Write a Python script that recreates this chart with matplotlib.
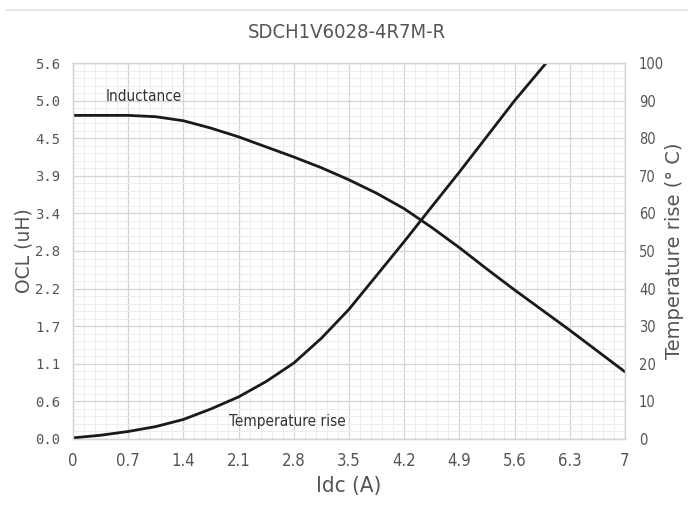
import matplotlib
matplotlib.use("Agg")
import matplotlib.pyplot as plt
from matplotlib.ticker import FixedLocator, MultipleLocator
from matplotlib.lines import Line2D

# ------------------------
# Data
# ------------------------
idc_l = [0, 0.35, 0.7, 1.05, 1.4, 1.75, 2.1, 2.45, 2.8, 3.15, 3.5,
         3.85, 4.2, 4.55, 4.9, 5.25, 5.6, 5.95, 6.3, 6.65, 7.0]
inductance = [4.82, 4.82, 4.82, 4.80, 4.74, 4.63, 4.50, 4.35, 4.20, 4.04, 3.86,
              3.66, 3.43, 3.15, 2.85, 2.53, 2.22, 1.92, 1.62, 1.31, 1.0]

idc_t = [0, 0.35, 0.7, 1.05, 1.4, 1.75, 2.1, 2.45, 2.8, 3.15, 3.5,
         3.85, 4.2, 4.55, 4.9, 5.25, 5.6, 6.0]
temp_rise = [0.3, 1.0, 2.0, 3.3, 5.2, 8.0, 11.2, 15.3, 20.2, 26.8, 34.5,
             43.5, 52.5, 61.8, 71.0, 80.5, 90.0, 100.0]

x_ticks = [0, 0.7, 1.4, 2.1, 2.8, 3.5, 4.2, 4.9, 5.6, 6.3, 7]
x_labels = ["0", "0.7", "1.4", "2.1", "2.8", "3.5", "4.2", "4.9", "5.6", "6.3", "7"]
l_ticks = [0, 0.56, 1.12, 1.68, 2.24, 2.8, 3.36, 3.92, 4.48, 5.04, 5.6]
l_labels = ["0.0", "0.6", "1.1", "1.7", "2.2", "2.8", "3.4", "3.9", "4.5", "5.0", "5.6"]
r_ticks = [0, 10, 20, 30, 40, 50, 60, 70, 80, 90, 100]

TITLE = "SDCH1V6028-4R7M-R"

# ------------------------
# Style
# ------------------------
NARROW = dict(family="DejaVu Sans", stretch="condensed")
TXT = "#555555"
MAJOR = "#d4d4d4"
MINOR = "#ededed"

fig = plt.figure(figsize=(6.88, 5.12), dpi=100)
ax = fig.add_axes([73 / 688, 1 - 439 / 512, 552 / 688, 376 / 512])
ax2 = ax.twinx()

ax.set_xlim(0, 7)
ax.set_ylim(0, 5.6)
ax2.set_ylim(0, 100)

ax.xaxis.set_major_locator(FixedLocator(x_ticks))
ax.xaxis.set_minor_locator(MultipleLocator(0.14))
ax.yaxis.set_major_locator(FixedLocator(l_ticks))
ax.yaxis.set_minor_locator(MultipleLocator(0.112))
ax2.yaxis.set_major_locator(FixedLocator(r_ticks))

ax.set_xticklabels(x_labels, fontsize=12, color=TXT, **NARROW)
ax.set_yticklabels(l_labels, family="DejaVu Sans Mono", fontsize=10, color=TXT)
ax2.set_yticklabels([str(t) for t in r_ticks], fontsize=10.5, color=TXT, **NARROW)

ax.grid(which="major", color=MAJOR, lw=0.9)
ax.grid(which="minor", color=MINOR, lw=0.7)
ax.set_axisbelow(True)
ax.tick_params(which="both", length=0)
ax.tick_params(axis="x", pad=9)
ax.tick_params(axis="y", pad=9)
ax2.tick_params(length=0, pad=10)

for a in (ax, ax2):
    for s in a.spines.values():
        s.set_color(MAJOR)
        s.set_linewidth(0.9)

ax.plot(idc_l, inductance, color="#1a1a1a", lw=2.0, solid_capstyle="round")
ax2.plot(idc_t, temp_rise, color="#1a1a1a", lw=2.0, solid_capstyle="round")

ax.text(0.9, 5.1, "Inductance", fontsize=11, color="#333333",
        ha="center", va="center", **NARROW)
ax.text(2.72, 0.26, "Temperature rise", fontsize=11, color="#333333",
        ha="center", va="center", **NARROW)

ax.set_xlabel("Idc (A)", fontsize=16, color=TXT, labelpad=5, **NARROW)
ax.set_ylabel("OCL (uH)", fontsize=13.5, color=TXT, labelpad=1)
ax2.set_ylabel("Temperature rise (° C)", fontsize=14, color=TXT, labelpad=1)

fig.text(347 / 688, 1 - 33 / 512, TITLE, fontsize=14.5, color=TXT,
         ha="center", va="center", **NARROW)

# faint frame line across the top
fig.add_artist(Line2D([0.01, 1.0], [1 - 10 / 512, 1 - 10 / 512],
                      transform=fig.transFigure, color="#e6e6e6", lw=1.5))

fig.savefig("out.png", dpi=100)
